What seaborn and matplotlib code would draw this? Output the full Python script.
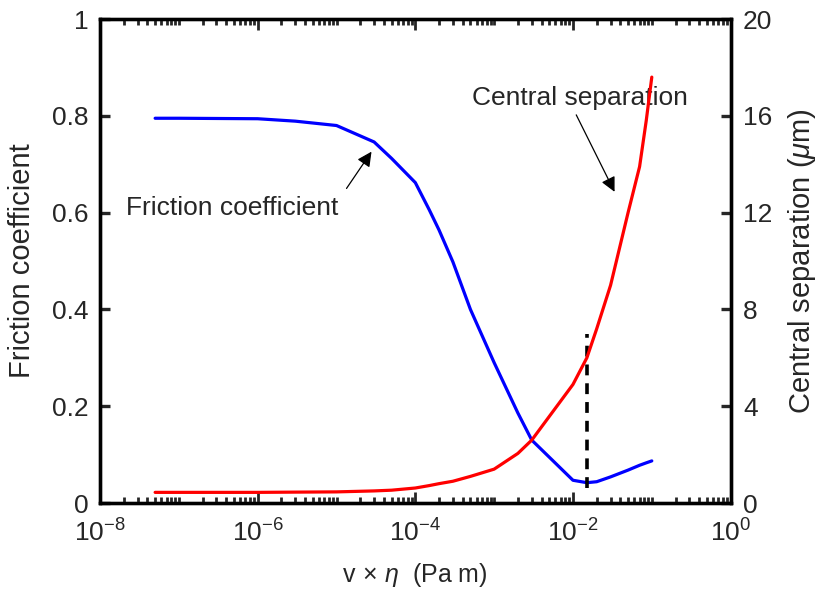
import numpy as np
import pandas as pd
import seaborn as sns
import matplotlib.pyplot as plt
from matplotlib.ticker import NullFormatter, FixedLocator, FixedFormatter

sns.set_style("ticks")
plt.rcParams["font.family"] = ["Liberation Sans", "DejaVu Sans"]
plt.rcParams["mathtext.fontset"] = "custom"
plt.rcParams["mathtext.rm"] = "Liberation Sans"
plt.rcParams["mathtext.it"] = "Liberation Sans:italic"

# Data
v_eta = [5e-8, 1e-7, 1e-6, 3e-6, 1e-5, 3e-5, 5e-5, 1e-4, 1.5e-4, 2e-4, 3e-4, 5e-4,
         1e-3, 2e-3, 3e-3, 1e-2, 1.5e-2, 2e-2, 3e-2, 5e-2, 7e-2, 8.5e-2, 1e-1]
friction = [0.795, 0.795, 0.794, 0.789, 0.780, 0.746, 0.712, 0.662, 0.606, 0.564, 0.498, 0.400,
            0.290, 0.186, 0.130, 0.047, 0.042, 0.044, 0.054, 0.068, 0.078, 0.083, 0.087]
separation = [0.44, 0.44, 0.44, 0.45, 0.46, 0.50, 0.53, 0.62, 0.72, 0.80, 0.90, 1.10,
              1.40, 2.05, 2.60, 4.90, 6.00, 7.20, 9.00, 12.0, 13.9, 15.8, 17.6]

dash_x = [1.5e-2, 1.5e-2]
dash_y = [0.03, 0.35]

x_ticks = [1e-8, 1e-6, 1e-4, 1e-2, 1]
x_labels = [r"$\mathdefault{10^{-8}}$", r"$\mathdefault{10^{-6}}$", r"$\mathdefault{10^{-4}}$",
            r"$\mathdefault{10^{-2}}$", r"$\mathdefault{10^{0}}$"]
left_ticks = [0, 0.2, 0.4, 0.6, 0.8, 1]
left_labels = ["0", "0.2", "0.4", "0.6", "0.8", "1"]
right_ticks = [0, 4, 8, 12, 16, 20]
right_labels = ["0", "4", "8", "12", "16", "20"]

df = pd.DataFrame({"v_eta": v_eta, "friction": friction, "separation": separation})

fig = plt.figure(figsize=(8.2, 5.95), dpi=100)
ax = fig.add_axes([0.122, 0.1546, 0.769, 0.8134])
ax2 = ax.twinx()

sns.lineplot(data=df, x="v_eta", y="friction", ax=ax, color="#0000ff", lw=2.3)
sns.lineplot(data=df, x="v_eta", y="separation", ax=ax2, color="#ff0000", lw=2.3)
ax.plot(dash_x, dash_y, color="k", lw=2.6, ls=(0, (3, 2.2)), zorder=5)

ax.set_xscale("log")
ax.set_xlim(1e-8, 1)
minor = [k * 10.0 ** e for e in range(-8, 0) for k in range(1, 10)
         if not (k == 1 and e % 2 == 0)]
ax.xaxis.set_major_locator(FixedLocator(x_ticks))
ax.xaxis.set_major_formatter(FixedFormatter(x_labels))
ax.xaxis.set_minor_locator(FixedLocator(minor))
ax.xaxis.set_minor_formatter(NullFormatter())

ax.set_ylim(0, 1)
ax.yaxis.set_major_locator(FixedLocator(left_ticks))
ax.yaxis.set_major_formatter(FixedFormatter(left_labels))
ax2.set_ylim(0, 20)
ax2.yaxis.set_major_locator(FixedLocator(right_ticks))
ax2.yaxis.set_major_formatter(FixedFormatter(right_labels))

ax.tick_params(axis="x", which="major", direction="in", top=True, length=8, width=2,
               color="#262626", labelsize=19, labelcolor="#262626", pad=12)
ax.tick_params(axis="x", which="minor", direction="in", top=True, length=4, width=2,
               color="#262626")
ax.tick_params(axis="y", direction="in", length=7, width=2.4, labelsize=19, pad=8,
               right=False)
ax2.tick_params(axis="y", direction="in", length=7, width=2.4, labelsize=19, pad=9)

for a in (ax, ax2):
    for s in a.spines.values():
        s.set_linewidth(2.4)
        s.set_color("k")
ax.spines["top"].set_color("#262626")
ax.spines["bottom"].set_color("#262626")

ax.set_xlabel(r"v$\,\times\,$$\it{\eta}$  (Pa m)", fontsize=18, labelpad=10, color="#262626")
ax.set_ylabel("Friction coefficient", fontsize=21, labelpad=12)
ax2.set_ylabel(r"Central separation ($\mu$m)", fontsize=21, labelpad=10)

arrow = dict(arrowstyle="-|>", mutation_scale=22, lw=0.9, color="k",
             shrinkA=0, shrinkB=0)
ax.annotate("", xy=(2.78e-5, 0.726), xytext=(1.34e-5, 0.650), arrowprops=arrow)
ax.text(4.8e-7, 0.610, "Friction coefficient", fontsize=19, ha="center", va="center")
ax.annotate("", xy=(0.0337, 0.643), xytext=(0.0110, 0.802), arrowprops=arrow)
ax.text(0.0121, 0.837, "Central separation", fontsize=19, ha="center", va="center")

fig.savefig("out.png", dpi=100)
